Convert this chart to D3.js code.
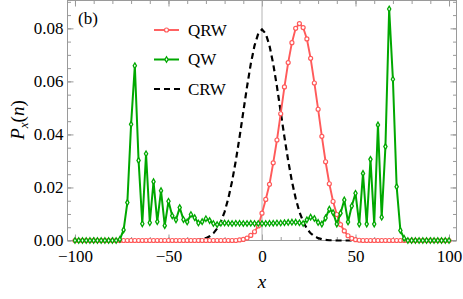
<!DOCTYPE html>
<html>
<head>
<meta charset="utf-8">
<script src="https://cdn.jsdelivr.net/npm/d3@7"></script>
<style>
  body { margin: 0; background: #fff; }
  svg { display: block; }
  .tick line { stroke: #9a9a9a; }
</style>
</head>
<body>
<div id="chart"></div>
<script>
// sites n = -100 ... 100 (even only), one row = 10 sites
const sites = d3.range(-100, 101, 2);

// quantum random walk (red)
const qrwProb = [
  0, 0, 0, 0, 0, 0, 0, 0, 0, 0,
  0, 0, 0, 0, 0, 0, 0, 0, 0, 0,
  0, 0, 0, 0, 0, 0, 0, 0, 0, 0,
  0, 0, 0, 0, 0, 0, 0, 0, 0, 0,
  0, 0, 0, 0, 0.0002, 0.0004, 0.0009, 0.0019, 0.0033, 0.0055,
  0.0103, 0.0155, 0.0212, 0.0293, 0.0379, 0.0478, 0.0579, 0.0671, 0.0746, 0.0800,
  0.0818, 0.0803, 0.0760, 0.0687, 0.0594, 0.0495, 0.0393, 0.0297, 0.0214, 0.0147,
  0.0098, 0.0060, 0.0036, 0.0018, 0.0008, 0.0003, 0.0001, 0, 0, 0,
  0, 0, 0, 0, 0, 0, 0, 0, 0, 0,
  0, 0, 0, 0, 0, 0, 0, 0, 0, 0,
  0
];

// quantum walk (green)
const qwProb = [
  0, 0, 0, 0, 0, 0, 0, 0, 0, 0,
  0, 0, 0.0004, 0.0040, 0.0143, 0.0438, 0.0659, 0.0302, 0.0063, 0.0327,
  0.0067, 0.0222, 0.0071, 0.0188, 0.0056, 0.0148, 0.0093, 0.0078, 0.0124, 0.0079,
  0.0070, 0.0098, 0.0086, 0.0066, 0.0071, 0.0082, 0.0075, 0.0064, 0.0060, 0.0065,
  0.0066, 0.0065, 0.0064, 0.0065, 0.0065, 0.0064, 0.0064, 0.0065, 0.0064, 0.0064,
  0.0064, 0.0064, 0.0065, 0.0065, 0.0066, 0.0066, 0.0067, 0.0068, 0.0069, 0.0069,
  0.0067, 0.0064, 0.0078, 0.0088, 0.0083, 0.0068, 0.0062, 0.0085, 0.0118, 0.0105,
  0.0062, 0.0103, 0.0153, 0.0070, 0.0130, 0.0178, 0.0062, 0.0253, 0.0062, 0.0306,
  0.0062, 0.0436, 0.0088, 0.0354, 0.0873, 0.0608, 0.0203, 0.0038, 0.0008, 0,
  0, 0, 0, 0, 0, 0, 0, 0, 0, 0,
  0
];

// classical random walk (black dashed)
const crwProb = [
  0, 0, 0, 0, 0, 0, 0, 0, 0, 0,
  0, 0, 0, 0, 0, 0, 0, 0, 0, 0,
  0, 0, 0, 0, 0, 0, 0, 0, 0, 0,
  0, 0.0001, 0.0001, 0.0002, 0.0005, 0.0009, 0.0016, 0.0027, 0.0045, 0.0071,
  0.0108, 0.0159, 0.0223, 0.0301, 0.0390, 0.0485, 0.0580, 0.0666, 0.0735, 0.0780,
  0.0796, 0.0780, 0.0735, 0.0666, 0.0580, 0.0485, 0.0390, 0.0301, 0.0223, 0.0159,
  0.0108, 0.0071, 0.0045, 0.0027, 0.0016, 0.0009, 0.0005, 0.0002, 0.0001, 0.0001,
  0, 0, 0, 0, 0, 0, 0, 0, 0, 0,
  0, 0, 0, 0, 0, 0, 0, 0, 0, 0,
  0, 0, 0, 0, 0, 0, 0, 0, 0, 0,
  0
];

const xMajor = [-100, -50, 0, 50, 100];
const xMinor = d3.range(-100, 101, 10);
const yMajor = [0, 0.02, 0.04, 0.06, 0.08];
const yMinor = d3.range(0, 0.0901, 0.005);
const legendNames = ["QRW", "QW", "CRW"];

const W = 463, H = 299;
const red = "#ff5a5a", green = "#00a800";
const serif = "'Liberation Serif', 'Times New Roman', Times, 'DejaVu Serif', serif";

const svg = d3.select("#chart").append("svg")
  .attr("width", W).attr("height", H)
  .style("font-family", serif);

const x = d3.scaleLinear().domain([-104, 104]).range([67.5, 456.5]);
const y = d3.scaleLinear().domain([0, 0.0905]).range([240.5, 0.5]);

// frame ticks, all pointing inward
function ticks(axis, vals, size, tr) {
  let g = svg.append("g").attr("transform", tr)
    .call(axis.tickValues(vals).tickSize(size).tickFormat(() => ""));
  g.select(".domain").remove();
  return g;
}
ticks(d3.axisBottom(x), xMinor, -3.5, "translate(0,240.5)");
ticks(d3.axisTop(x), xMinor, -3.5, "translate(0,0.5)");
ticks(d3.axisTop(x), xMajor, -6, "translate(0,0.5)");
ticks(d3.axisLeft(y), yMinor, -3.5, "translate(67.5,0)");
ticks(d3.axisRight(y), yMinor, -3.5, "translate(456.5,0)");
ticks(d3.axisRight(y), yMajor, -6, "translate(456.5,0)");

let gx = svg.append("g").attr("transform", "translate(0,240.5)")
  .call(d3.axisBottom(x).tickValues(xMajor).tickSize(-6).tickPadding(9)
    .tickFormat(d => d < 0 ? "\u2212" + Math.abs(d) : d));
gx.select(".domain").remove();
let gy = svg.append("g").attr("transform", "translate(67.5,0)")
  .call(d3.axisLeft(y).tickValues(yMajor).tickSize(-6).tickPadding(4)
    .tickFormat(d3.format(".2f")));
gy.select(".domain").remove();
[gx, gy].forEach(g => g.attr("font-family", null).attr("font-size", null)
  .selectAll("text").attr("fill", "#000").style("font-family", serif).style("font-size", "17px"));

// y axis at x = 0
svg.append("line")
  .attr("x1", x(0)).attr("x2", x(0)).attr("y1", 0.5).attr("y2", 240.5)
  .attr("stroke", "#b4b4b4").attr("stroke-width", 1);

svg.append("rect")
  .attr("x", 67.5).attr("y", 0.5).attr("width", 389).attr("height", 240)
  .attr("fill", "none").attr("stroke", "#9a9a9a").attr("stroke-width", 1);

const line = d3.line().x(d => x(d[0])).y(d => y(d[1]));
const crw = sites.map((n, i) => [n, crwProb[i]]);
const qrw = sites.map((n, i) => [n, qrwProb[i]]);
const qw = sites.map((n, i) => [n, qwProb[i]]);

svg.append("path").datum(crw).attr("d", line)
  .attr("fill", "none").attr("stroke", "#000").attr("stroke-width", 2.2)
  .attr("stroke-dasharray", "6,4");

svg.append("path").datum(qrw).attr("d", line)
  .attr("fill", "none").attr("stroke", red).attr("stroke-width", 1.9);
svg.append("g").selectAll("circle").data(qrw).enter().append("circle")
  .attr("cx", d => x(d[0])).attr("cy", d => y(d[1])).attr("r", 2)
  .attr("fill", "#fff").attr("stroke", red).attr("stroke-width", 1.2);

const diamond = d3.symbol().type(d3.symbolDiamond).size(9);
svg.append("path").datum(qw).attr("d", line)
  .attr("fill", "none").attr("stroke", green).attr("stroke-width", 2);
svg.append("g").selectAll("path").data(qw).enter().append("path")
  .attr("d", diamond)
  .attr("transform", d => "translate(" + x(d[0]) + "," + y(d[1]) + ")")
  .attr("fill", "#fff").attr("stroke", green).attr("stroke-width", 1.3);

// legend
const legY = [30, 59.5, 89];
const leg = svg.append("g");
leg.append("line").attr("x1", 154).attr("x2", 179).attr("y1", legY[0]).attr("y2", legY[0])
  .attr("stroke", red).attr("stroke-width", 1.9);
leg.append("circle").attr("cx", 166.5).attr("cy", legY[0]).attr("r", 2)
  .attr("fill", "#fff").attr("stroke", red).attr("stroke-width", 1.2);
leg.append("line").attr("x1", 154).attr("x2", 179).attr("y1", legY[1]).attr("y2", legY[1])
  .attr("stroke", green).attr("stroke-width", 2);
leg.append("path").attr("d", diamond).attr("transform", "translate(166.5," + legY[1] + ")")
  .attr("fill", "#fff").attr("stroke", green).attr("stroke-width", 1.3);
leg.append("line").attr("x1", 154).attr("x2", 180).attr("y1", legY[2]).attr("y2", legY[2])
  .attr("stroke", "#000").attr("stroke-width", 2.2).attr("stroke-dasharray", "6,4");
leg.selectAll("text").data(legendNames).enter().append("text")
  .attr("x", 188).attr("y", (d, i) => legY[i] + 5.5)
  .style("font-size", "17px").text(d => d);

svg.append("text").attr("x", 78).attr("y", 23.5).style("font-size", "17px").text("(b)");

// axis labels
svg.append("text").attr("x", x(0)).attr("y", 288).attr("text-anchor", "middle")
  .style("font-size", "19px").style("font-style", "italic").text("x");

const yl = svg.append("text").attr("transform", "translate(23.5,120) rotate(-90)")
  .attr("text-anchor", "middle").style("font-size", "19px");
yl.append("tspan").style("font-style", "italic").text("P");
yl.append("tspan").style("font-style", "italic").style("font-size", "13px").attr("dy", 4).text("x");
yl.append("tspan").attr("dy", -4).text("(");
yl.append("tspan").style("font-style", "italic").text("n");
yl.append("tspan").text(")");
</script>
</body>
</html>
